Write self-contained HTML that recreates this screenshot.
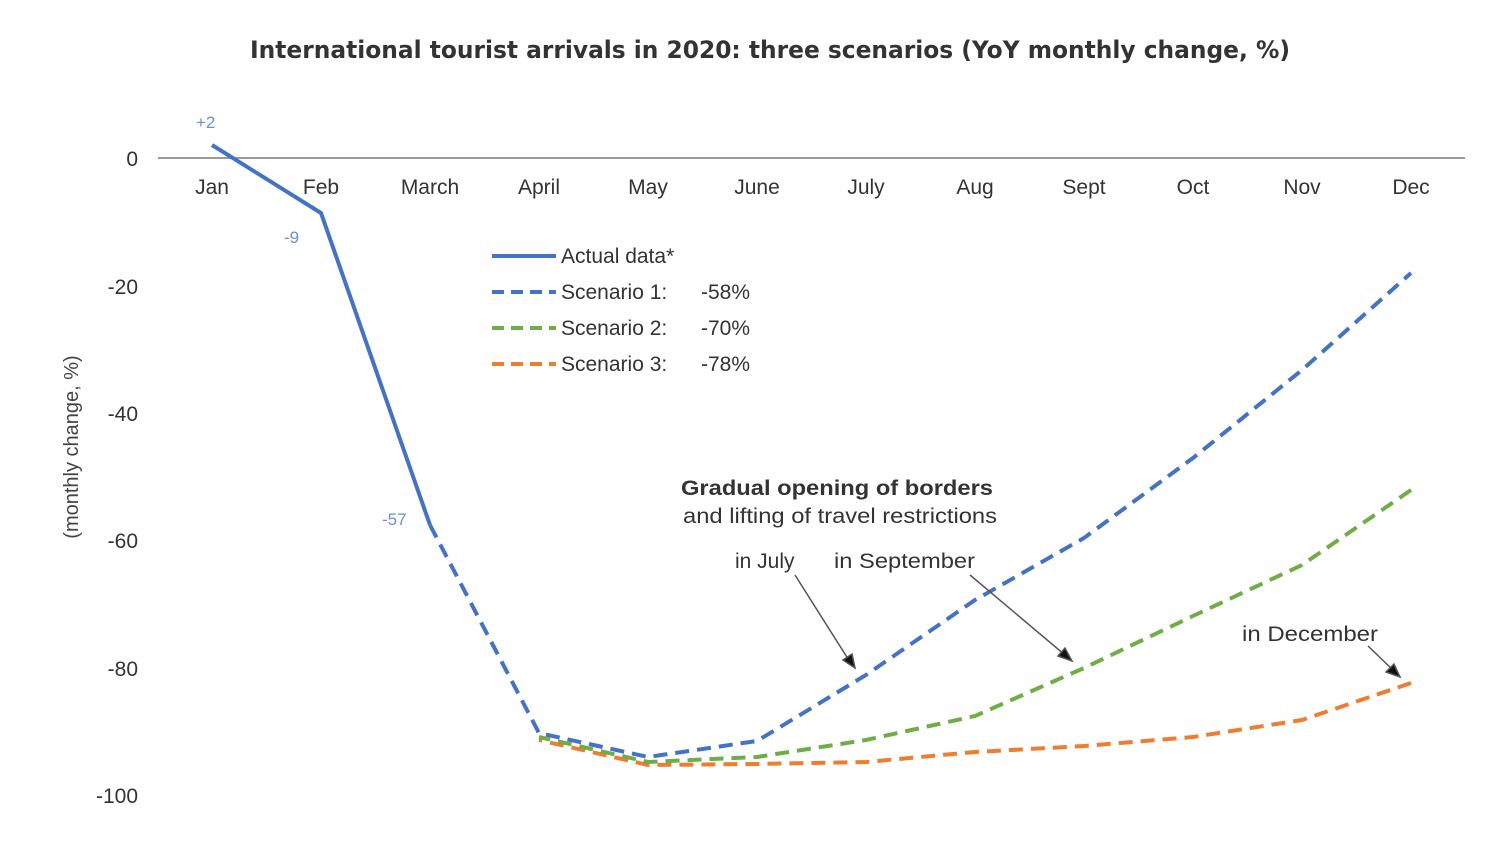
<!DOCTYPE html>
<html><head><meta charset="utf-8"><style>
body{margin:0;background:#fff;}
svg{display:block;font-family:"Liberation Sans",sans-serif;}
</style></head><body>
<svg width="1505" height="850" viewBox="0 0 1505 850">
<rect width="1505" height="850" fill="#fff"/>
<text x="250" y="58" textLength="1040" lengthAdjust="spacingAndGlyphs" font-size="24" font-weight="bold" fill="#333" font-family="DejaVu Sans, sans-serif">International tourist arrivals in 2020: three scenarios (YoY monthly change, %)</text>
<line x1="158" y1="158" x2="1465" y2="158" stroke="#999" stroke-width="2"/>
<g font-size="21" fill="#333" text-anchor="end">
<text x="138" y="166">0</text><text x="138" y="294">-20</text><text x="138" y="421">-40</text>
<text x="138" y="548">-60</text><text x="138" y="676">-80</text><text x="138" y="803">-100</text>
</g>
<text transform="translate(78,447) rotate(-90)" text-anchor="middle" font-size="20" fill="#444">(monthly change, %)</text>
<g font-size="21" fill="#333" text-anchor="middle">
<text x="212" y="194">Jan</text><text x="321" y="194">Feb</text><text x="430" y="194">March</text>
<text x="539" y="194">April</text><text x="648" y="194">May</text><text x="757" y="194">June</text>
<text x="866" y="194">July</text><text x="975" y="194">Aug</text><text x="1084" y="194">Sept</text>
<text x="1193" y="194">Oct</text><text x="1302" y="194">Nov</text><text x="1411" y="194">Dec</text>
</g>
<g fill="none" stroke-width="4">
<polyline points="1411,683 1302,720 1193,737 1084,746 975,752 866,762 757,764 648,765 539,740" stroke="#ed7d31" stroke-dasharray="14,8"/>
<polyline points="1411,490 1302,565 1193,616 1084,668 975,716 866,740 757,757 648,762 539,737" stroke="#70ad47" stroke-dasharray="14,8"/>
<polyline points="430,525 539,733 648,757 757,741 866,675 975,600 1084,538 1193,458 1302,370 1411,273" stroke="#4472c4" stroke-dasharray="14,8"/>
<polyline points="212,145 321,213 430,525" stroke="#4472c4"/>
</g>
<g font-size="17" fill="#6f8fd0">
<text x="196" y="128">+2</text><text x="284" y="243">-9</text><text x="382" y="525">-57</text>
</g>
<g font-size="21" fill="#333">
<line x1="492" y1="256" x2="556" y2="256" stroke="#4472c4" stroke-width="4"/>
<text x="561" y="263">Actual data*</text>
<line x1="492" y1="292" x2="556" y2="292" stroke="#4472c4" stroke-width="4" stroke-dasharray="12,7"/>
<text x="561" y="299">Scenario 1:</text><text x="701" y="299">-58%</text>
<line x1="492" y1="328" x2="556" y2="328" stroke="#70ad47" stroke-width="4" stroke-dasharray="12,7"/>
<text x="561" y="335">Scenario 2:</text><text x="701" y="335">-70%</text>
<line x1="492" y1="364" x2="556" y2="364" stroke="#ed7d31" stroke-width="4" stroke-dasharray="12,7"/>
<text x="561" y="371">Scenario 3:</text><text x="701" y="371">-78%</text>
<text x="837" y="495" text-anchor="middle" font-weight="bold" textLength="312" lengthAdjust="spacingAndGlyphs">Gradual opening of borders</text>
<text x="840" y="523" text-anchor="middle" textLength="314" lengthAdjust="spacingAndGlyphs">and lifting of travel restrictions</text>
<text x="735" y="568">in July</text>
<text x="834" y="568" textLength="141" lengthAdjust="spacingAndGlyphs">in September</text>
<text x="1242" y="641" textLength="136" lengthAdjust="spacingAndGlyphs">in December</text>
</g>
<g stroke="#555" stroke-width="1.5" fill="#111">
<line x1="795" y1="575" x2="850" y2="662"/><polygon points="855,668 843,660 852,654"/>
<line x1="970" y1="575" x2="1065" y2="655"/><polygon points="1072,661 1058,656 1065,648"/>
<line x1="1368" y1="646" x2="1393" y2="670"/><polygon points="1400,677 1386,672 1394,664"/>
</g>
</svg>
</body></html>
